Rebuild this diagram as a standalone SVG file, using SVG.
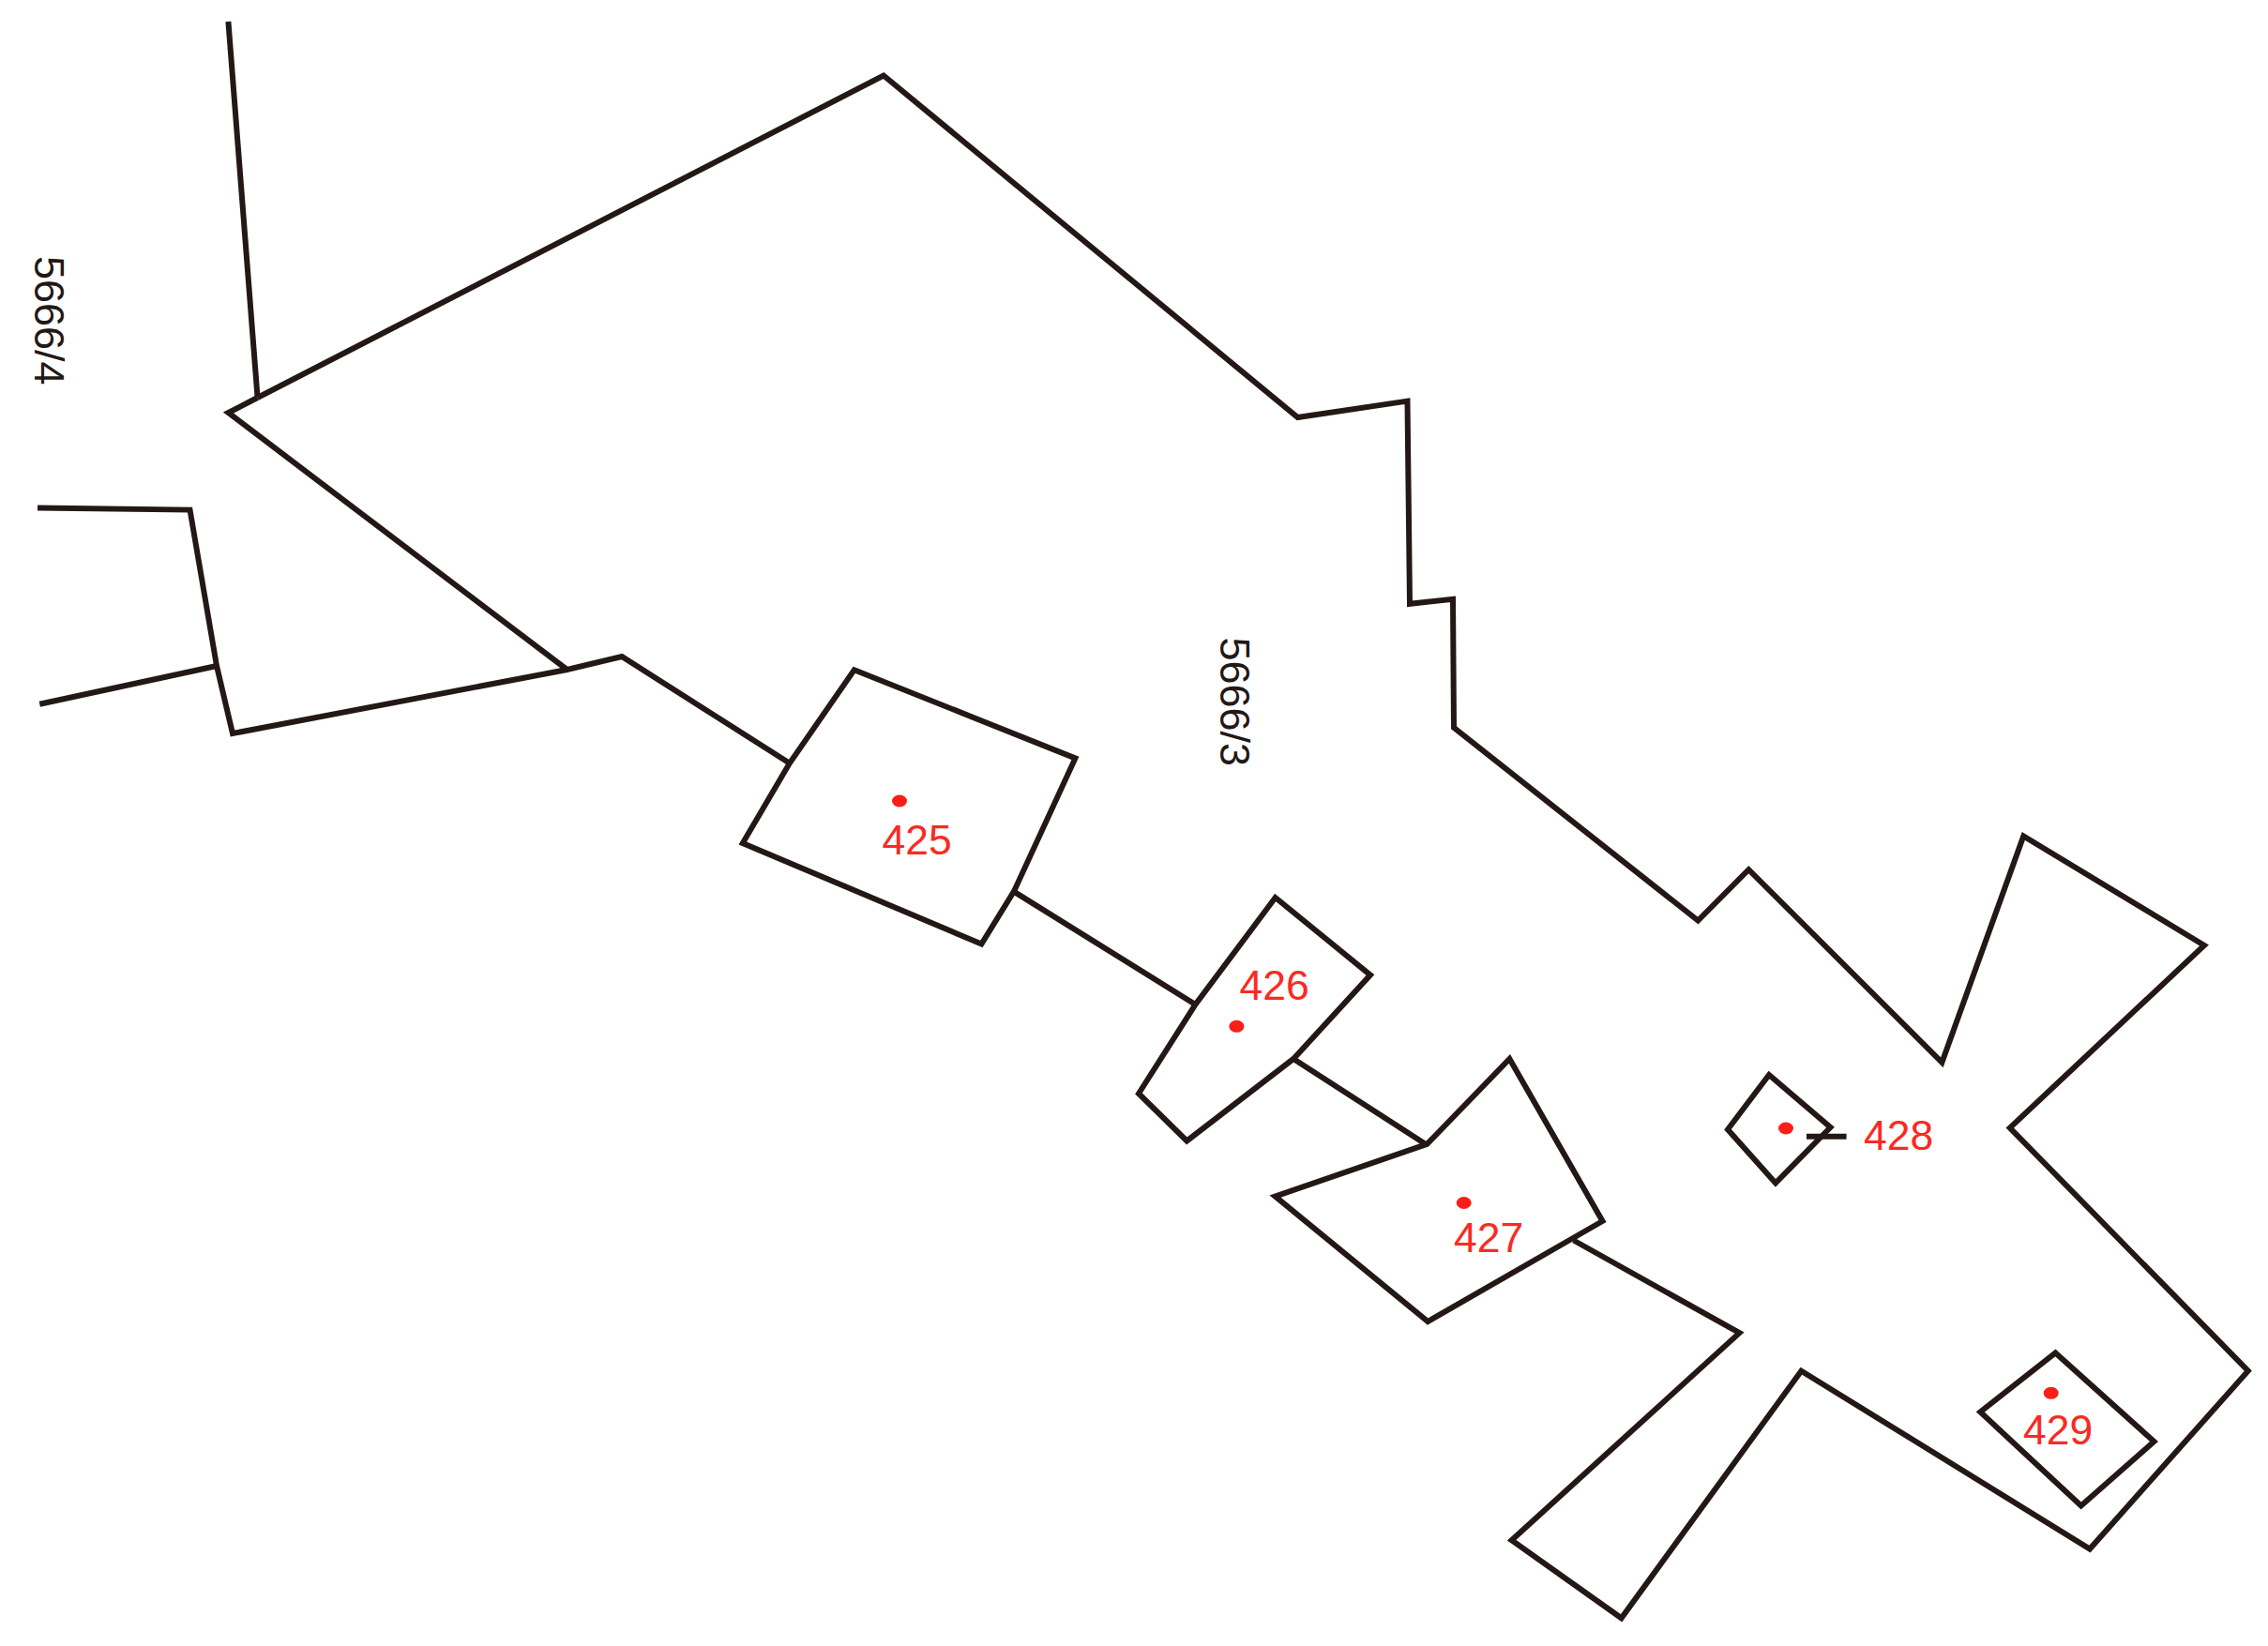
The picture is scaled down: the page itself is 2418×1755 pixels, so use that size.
<svg xmlns="http://www.w3.org/2000/svg" width="2418" height="1755" viewBox="0 0 2418 1755">
<style>
.l{fill:none;stroke:#231815;stroke-width:6;stroke-linejoin:miter;stroke-linecap:butt}
.d{fill:#fa1e19}
.t{fill:#fa2a22;font-family:"Liberation Sans",Arial,sans-serif;font-size:44.5px}
.b{fill:#231815;font-family:"Liberation Sans",Arial,sans-serif;font-size:45px}
</style>
<rect width="2418" height="1755" fill="#ffffff"/>
<g id="connectors">
<polyline class="l" points="243.4,23 274.5,423"/>
<polyline class="l" points="274.5,424 942,80.5 1383.5,445 1500.5,427.6 1503,643.8 1549,638.8 1550,775.8 1810.3,981.5 1864.3,927.2 2070.4,1132.8 2157.3,891.5 2350,1008 2142.8,1202.5 2396.8,1461.7 2228,1651.5 1920.4,1461.7 1728.6,1725.3 1611.6,1642.2 1854.5,1421.2 1677.7,1322.5"/>
<polyline class="l" points="274.5,424 243.4,440 604.6,714 663,700 841.8,813.8"/>
<polyline class="l" points="40,541.5 202.5,543.6 231,710 248,782 604.6,714"/>
<polyline class="l" points="42.3,750.7 231,710"/>
<polyline class="l" points="1080.5,950.4 1274.5,1071"/>
<polyline class="l" points="1379,1129 1520,1220"/>
<polyline class="l" points="1926,1211.8 1968.6,1211.8"/>
</g>
<g id="parcel-425">
<polygon class="l" points="910.7,714.3 1146.4,808.4 1081,950.4 1046.4,1006.5 791.8,899 841.8,813.8"/>
<ellipse class="d" cx="959" cy="854" rx="8" ry="6.5"/>
<text class="t" x="940.5" y="911">425</text>
</g>
<g id="parcel-426">
<polygon class="l" points="1359.7,957 1461,1039.6 1379,1129 1265.3,1216.5 1214,1166 1274.5,1071"/>
<ellipse class="d" cx="1318.4" cy="1094.3" rx="8" ry="6.5"/>
<text class="t" x="1321.5" y="1066">426</text>
</g>
<g id="parcel-427">
<polygon class="l" points="1609.4,1128.9 1708.5,1302 1522.3,1409 1359.5,1275.6 1521.4,1219.9"/>
<ellipse class="d" cx="1560.7" cy="1282.5" rx="8" ry="6.5"/>
<text class="t" x="1550" y="1335">427</text>
</g>
<g id="parcel-428">
<polygon class="l" points="1886,1146 1951.5,1202 1893,1261.4 1842,1204.3"/>
<ellipse class="d" cx="1904" cy="1203" rx="8" ry="6.5"/>
<text class="t" x="1987" y="1226">428</text>
</g>
<g id="parcel-429">
<polygon class="l" points="2191.4,1442.5 2296.5,1537 2218.7,1605.5 2111.3,1505.5"/>
<ellipse class="d" cx="2186.7" cy="1485.3" rx="8" ry="6.5"/>
<text class="t" x="2157" y="1539.5">429</text>
</g>
<g id="label-5666-4"><text class="b" transform="translate(37 273) rotate(90)">5666/4</text></g>
<g id="label-5666-3"><text class="b" transform="translate(1300.5 679.5) rotate(90)">5666/3</text></g>
</svg>
